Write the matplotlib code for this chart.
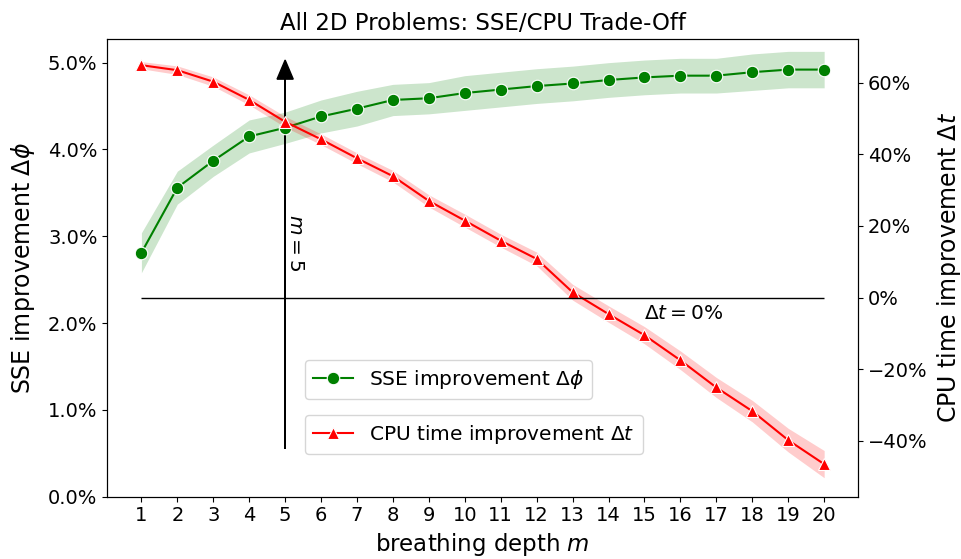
import matplotlib
matplotlib.use("Agg")
import matplotlib.pyplot as plt
from matplotlib.ticker import FuncFormatter
import numpy as np

depth = list(range(1, 21))
sse = [2.81, 3.56, 3.87, 4.15, 4.25, 4.38, 4.47, 4.57, 4.59, 4.65,
       4.69, 4.73, 4.76, 4.80, 4.83, 4.85, 4.85, 4.89, 4.92, 4.92]
sse_err = [0.23, 0.19, 0.18, 0.19, 0.18, 0.19, 0.20, 0.18, 0.18, 0.20,
           0.20, 0.20, 0.20, 0.20, 0.20, 0.20, 0.20, 0.21, 0.21, 0.21]
cpu = [64.9, 63.5, 60.3, 55.2, 49.1, 44.2, 38.9, 33.9, 27.0, 21.5,
       15.9, 10.8, 1.5, -4.6, -10.5, -17.5, -25.1, -31.7, -39.8, -46.5]
cpu_err = [1.0, 1.2, 1.3, 1.4, 1.5, 1.5, 1.5, 1.6, 1.7, 1.8,
           1.8, 1.9, 2.2, 2.3, 2.4, 2.6, 2.8, 3.0, 3.3, 3.8]

title = "All 2D Problems: SSE/CPU Trade-Off"
sse_label = r"SSE improvement $\Delta\phi$"
cpu_label = r"CPU time improvement $\Delta t$"

fig = plt.figure(figsize=(9.62, 5.59), dpi=100)
ax1 = fig.add_axes([0.1115, 0.1114, 0.7807, 0.8194])
ax2 = ax1.twinx()

x = np.array(depth)
s = np.array(sse); se = np.array(sse_err)
c = np.array(cpu); ce = np.array(cpu_err)

ax1.fill_between(x, s - se, s + se, color="green", alpha=0.2, lw=0)
l1, = ax1.plot(x, s, color="green", marker="o", markersize=9, lw=1.5,
               markeredgecolor="white", markeredgewidth=0.8, label=sse_label)

ax2.fill_between(x, c - ce, c + ce, color="red", alpha=0.2, lw=0)
l2, = ax2.plot(x, c, color="red", marker="^", markersize=9, lw=1.5,
               markeredgecolor="white", markeredgewidth=0.8, label=cpu_label)

# annotations
ax2.hlines(0, 1, 20, color="black", lw=1)
ax2.text(15, -4.3, r"$\Delta t = 0\%$", ha="left", va="center", fontsize=14.5)
ax1.arrow(5, 0.55, 0, 4.48, width=0.0, head_width=0.45, head_length=0.22,
          length_includes_head=True, color="black", lw=1)
ax1.text(5.29, 2.93, r"$m = 5$", rotation=270, ha="center", va="center", fontsize=14.5)

ax1.set_xlim(0.05, 20.95)
ax1.set_ylim(0, 5.276)
ax2.set_ylim(-55.6, 72.3)
ax1.set_xticks(depth)
ax1.set_yticks([0, 1, 2, 3, 4, 5])
ax2.set_yticks([-40, -20, 0, 20, 40, 60])
ax1.yaxis.set_major_formatter(FuncFormatter(lambda v, p: f"{v:.1f}%"))
ax2.yaxis.set_major_formatter(FuncFormatter(lambda v, p: f"{v:.0f}%".replace("-", "\u2212")))
ax1.tick_params(labelsize=14)
ax2.tick_params(labelsize=14)

ax1.set_xlabel(r"breathing depth $m$", fontsize=16.5)
ax1.set_ylabel(sse_label, fontsize=17, labelpad=8)
ax2.set_ylabel(cpu_label, fontsize=17, labelpad=5)
ax1.set_title(title, fontsize=16.5)

ax1.legend(handles=[l1], loc="upper left", bbox_to_anchor=(0.263, 0.298),
           borderaxespad=0, fontsize=14.5)
ax2.legend(handles=[l2], loc="upper left", bbox_to_anchor=(0.263, 0.178),
           borderaxespad=0, fontsize=14.5)

fig.savefig("out.png", dpi=100)
